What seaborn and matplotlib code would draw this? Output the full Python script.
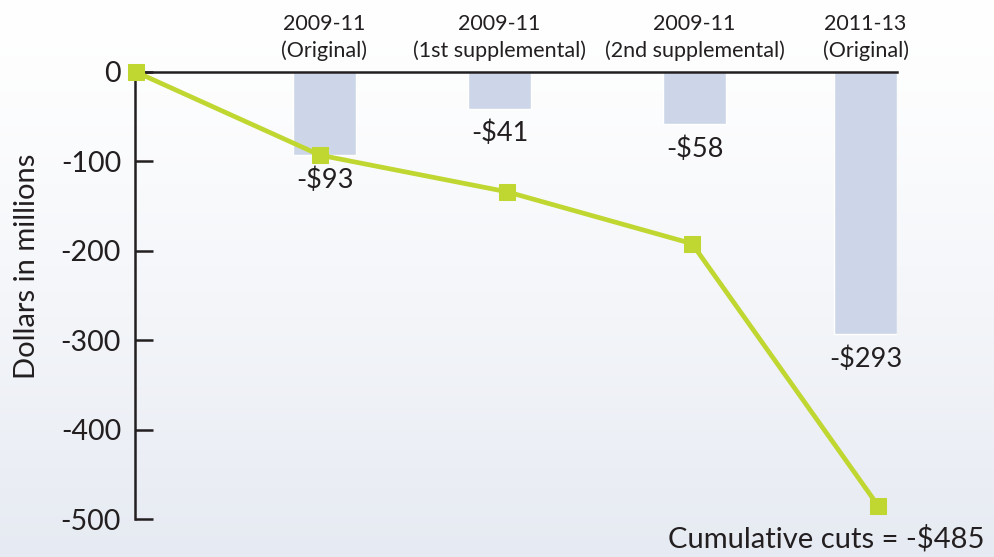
import numpy as np
import matplotlib.pyplot as plt
import seaborn as sns

# budget rounds across the top
round_years = ["2009-11", "2009-11", "2009-11", "2011-13"]
round_names = ["(Original)", "(1st supplemental)", "(2nd supplemental)", "(Original)"]
cuts = [-93, -41, -58, -293]
# running total, starts at zero
cumulative = [0, -93, -134, -192, -485]
ytick_vals = [0, -100, -200, -300, -400, -500]
ytick_labels = ["0", "-100", "-200", "-300", "-400", "-500"]

# horizontal placement only (axis units)
bar_pos = [1.895, 3.645, 5.595, 7.305]
line_pos = [0.01, 1.85, 3.72, 5.57, 7.43]

bar_color = "#cdd6e8"
line_color = "#bfd730"
ink = "#231f20"

sns.set_theme(style="white")
plt.rcParams["font.family"] = ["Lato", "DejaVu Sans"]

fig = plt.figure(figsize=(9.94, 5.57), dpi=100)

# soft background gradient
bg = fig.add_axes([0, 0, 1, 1], zorder=-10)
grad = np.linspace(0, 1, 256) ** 1.3
top = np.array([1.0, 1.0, 1.0])
bottom = np.array([0.902, 0.918, 0.949])
img = top[None, :] * (1 - grad[:, None]) + bottom[None, :] * grad[:, None]
bg.imshow(img[:, None, :], aspect="auto", extent=[0, 1, 0, 1])
bg.axis("off")

ax = fig.add_axes([135 / 994, 1 - 519 / 557, (897 - 135) / 994, (519 - 72) / 557])
ax.set_facecolor("none")

w = 0.63 / min(np.diff(bar_pos))
sns.barplot(x=bar_pos, y=cuts, native_scale=True, width=w, color=bar_color,
            saturation=1, ax=ax, zorder=1)
sns.lineplot(x=line_pos, y=cumulative, color=line_color, linewidth=3.4,
             marker="s", markersize=11.5, markeredgecolor=line_color,
             clip_on=False, zorder=5, ax=ax)

ax.set_xlim(0, (897 - 135) / 100)
ax.set_ylim(-500, 0)
ax.set_xticks([])
ax.set_yticks(ytick_vals)
ax.set_yticklabels(ytick_labels)
ax.set_xlabel("")
ax.tick_params(axis="y", direction="in", length=13, width=1.8, pad=10,
               labelsize=20.5, colors=ink, left=True)
for s in ["right", "bottom"]:
    ax.spines[s].set_visible(False)
for s in ["left", "top"]:
    ax.spines[s].set_color(ink)
    ax.spines[s].set_linewidth(1.8)
    ax.spines[s].set_zorder(4)

fig.text(27 / 994, 1 - 266 / 557, "Dollars in millions", rotation=90,
         ha="center", va="center", fontsize=21, color=ink)

for bx, yr, nm, v in zip(bar_pos, round_years, round_names, cuts):
    ax.annotate(f"{yr}\n{nm}", xy=(bx, 1), xycoords=("data", "axes fraction"),
                xytext=(0, 8), textcoords="offset points", ha="center",
                va="bottom", fontsize=15.5, linespacing=1.35, color=ink)
    ax.annotate(f"-${abs(v)}", xy=(bx, v), xytext=(0, -18),
                textcoords="offset points", ha="center", va="center",
                fontsize=19.5, color=ink)

ax.annotate(f"Cumulative cuts = -${abs(cumulative[-1])}",
            xy=(line_pos[-1], cumulative[-1]), xytext=(77, -24),
            textcoords="offset points", ha="right", va="center",
            fontsize=21, color=ink, annotation_clip=False)

fig.savefig("out.png", dpi=100)
